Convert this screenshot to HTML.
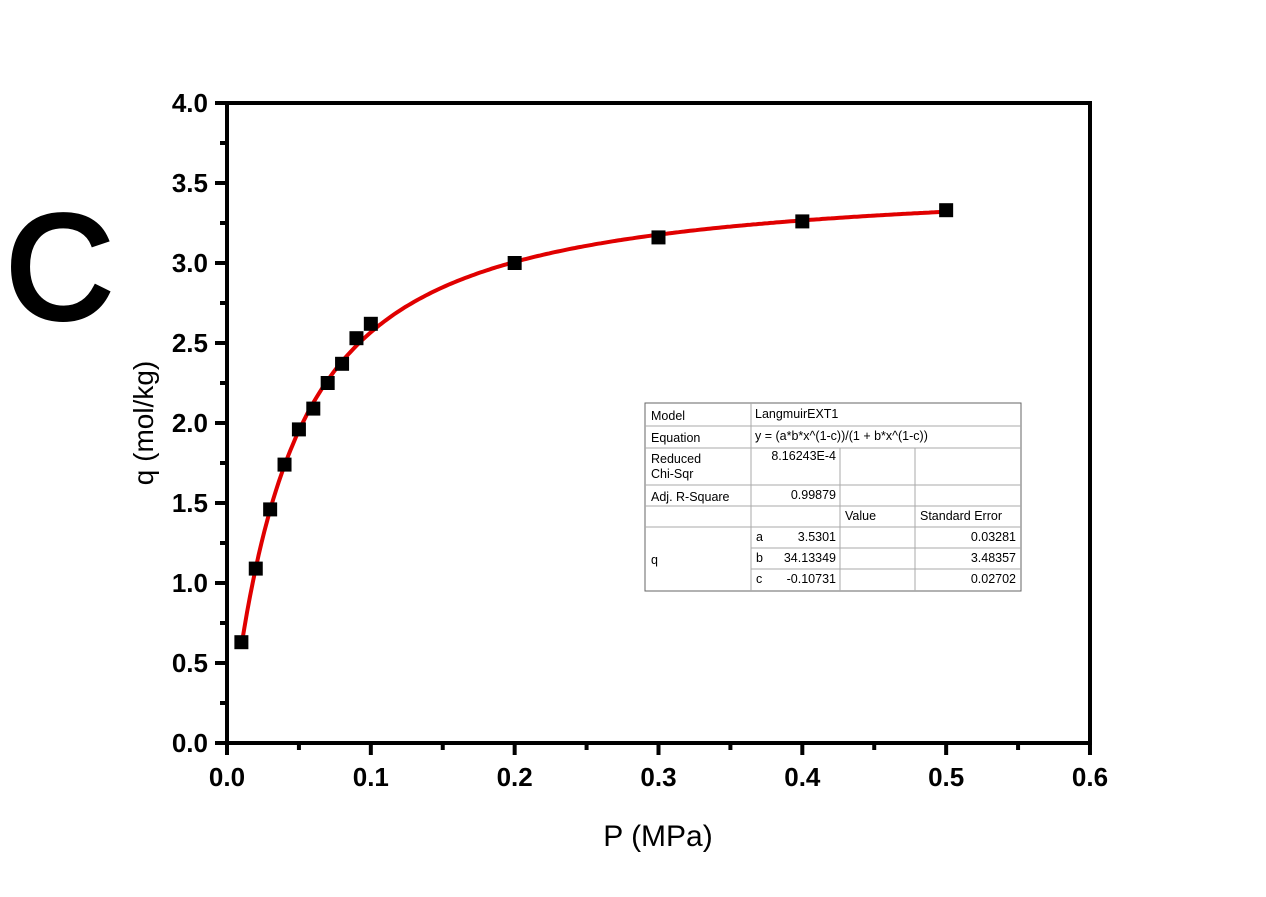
<!DOCTYPE html>
<html><head><style>
body{margin:0;background:#fff;}
svg text{font-family:"Liberation Sans",sans-serif;}
</style></head><body>
<svg id="s" width="1266" height="892" xmlns="http://www.w3.org/2000/svg">
<rect width="1266" height="892" fill="#fff"/>
<text x="6" y="318" font-size="148" fill="#000" stroke="#000" stroke-width="5">C</text>
<g id="ax" stroke="#000" stroke-width="4" fill="none">
<rect x="227" y="103" width="863" height="640"/>
</g>
<g id="ticks" stroke="#000" stroke-width="4"></g>
<g id="lbl" font-weight="bold" font-size="26" fill="#000"></g>
<text transform="translate(153,423) rotate(-90)" text-anchor="middle" font-size="28">q (mol/kg)</text>
<text x="658" y="846" text-anchor="middle" font-size="30">P (MPa)</text>
<path id="curve" fill="none" stroke="#e00000" stroke-width="4"/>
<g id="pts" fill="#000"></g>
<g font-size="12.5" fill="#000">
<rect x="645" y="403" width="376" height="188" fill="#fff" stroke="#666" stroke-width="1"/>
<g stroke="#aaa" stroke-width="1">
<line x1="751" y1="403" x2="751" y2="591"/>
<line x1="840" y1="448" x2="840" y2="591"/>
<line x1="915" y1="448" x2="915" y2="591"/>
<line x1="645" y1="426" x2="1021" y2="426"/>
<line x1="645" y1="448" x2="1021" y2="448"/>
<line x1="645" y1="485" x2="1021" y2="485"/>
<line x1="645" y1="506" x2="1021" y2="506"/>
<line x1="645" y1="527" x2="1021" y2="527"/>
<line x1="751" y1="548" x2="1021" y2="548"/>
<line x1="751" y1="569" x2="1021" y2="569"/>
</g>
<text x="651" y="420">Model</text>
<text x="755" y="418">LangmuirEXT1</text>
<text x="651" y="442">Equation</text>
<text x="755" y="440">y = (a*b*x^(1-c))/(1 + b*x^(1-c))</text>
<text x="651" y="463">Reduced</text>
<text x="651" y="478">Chi-Sqr</text>
<text x="836" y="460" text-anchor="end">8.16243E-4</text>
<text x="651" y="501">Adj. R-Square</text>
<text x="836" y="499" text-anchor="end">0.99879</text>
<text x="845" y="520">Value</text>
<text x="920" y="520">Standard Error</text>
<text x="651" y="564">q</text>
<text x="756" y="541">a</text><text x="836" y="541" text-anchor="end">3.5301</text><text x="1016" y="541" text-anchor="end">0.03281</text>
<text x="756" y="562">b</text><text x="836" y="562" text-anchor="end">34.13349</text><text x="1016" y="562" text-anchor="end">3.48357</text>
<text x="756" y="583">c</text><text x="836" y="583" text-anchor="end">-0.10731</text><text x="1016" y="583" text-anchor="end">0.02702</text>
</g>
</svg>
<script>
var X=function(v){return 227+v*1438.3},Y=function(q){return 743-q*160};
var ns="http://www.w3.org/2000/svg",t=document.getElementById("ticks"),l=document.getElementById("lbl");
function el(p,n,a,txt){var e=document.createElementNS(ns,n);for(var k in a)e.setAttribute(k,a[k]);if(txt)e.textContent=txt;p.appendChild(e);}
for(var i=0;i<=12;i++){var x=X(i*0.05),m=i%2==0;el(t,"line",{x1:x,y1:743,x2:x,y2:743+(m?12:7)});
 if(m)el(l,"text",{x:x,y:786,"text-anchor":"middle"},(i*0.05).toFixed(1));}
for(var i=0;i<=16;i++){var y=Y(i*0.25),m=i%2==0;el(t,"line",{x1:227,y1:y,x2:227-(m?12:7),y2:y});
 if(m)el(l,"text",{x:208,y:y+9,"text-anchor":"end"},(i*0.25).toFixed(1));}
var a=3.5301,b=34.13349,c=-0.10731,d="";
for(var v=0.01;v<=0.5001;v+=0.002){var z=b*Math.pow(v,1-c),q=a*z/(1+z);d+=(d?"L":"M")+X(v).toFixed(1)+","+Y(q).toFixed(1);}
document.getElementById("curve").setAttribute("d",d);
var P=[[0.01,0.63],[0.02,1.09],[0.03,1.46],[0.04,1.74],[0.05,1.96],[0.06,2.09],[0.07,2.25],[0.08,2.37],[0.09,2.53],[0.1,2.62],[0.2,3.0],[0.3,3.16],[0.4,3.26],[0.5,3.33]];
var g=document.getElementById("pts");P.forEach(function(p){el(g,"rect",{x:X(p[0])-7,y:Y(p[1])-7,width:14,height:14});});
</script>
</body></html>
